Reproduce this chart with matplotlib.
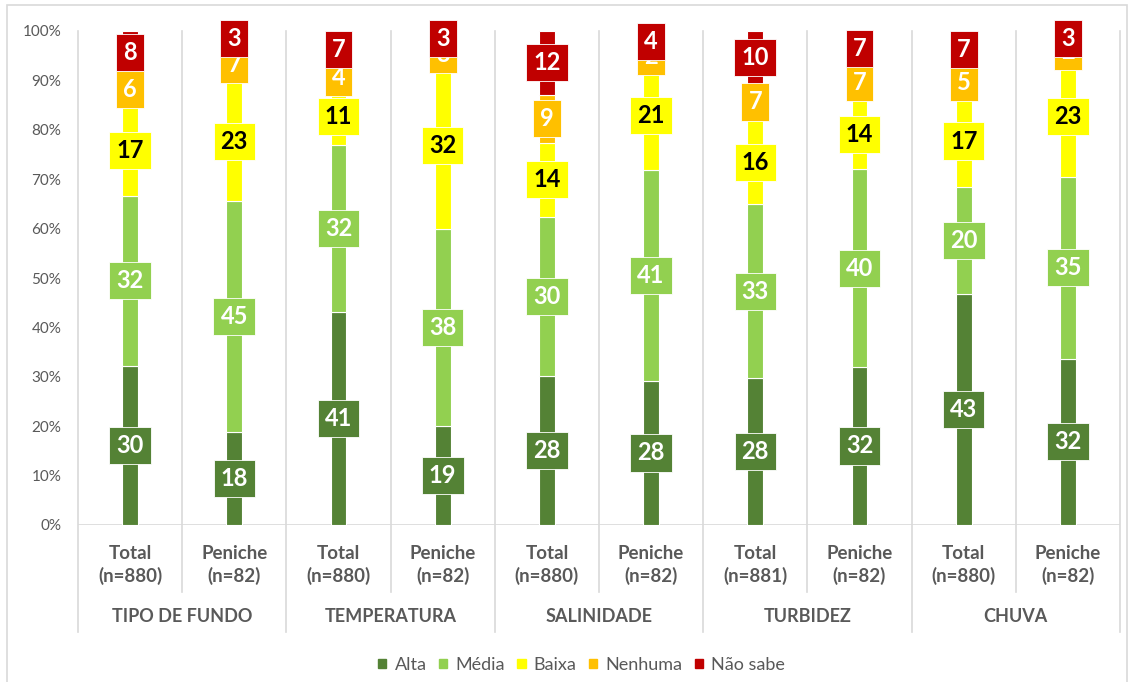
import matplotlib
matplotlib.use("Agg")
import matplotlib.pyplot as plt
import matplotlib.transforms as mtransforms
from matplotlib.patches import Rectangle
import numpy as np

plt.rcParams['font.family'] = ['Lato', 'DejaVu Sans']

groups = ["TIPO DE FUNDO", "TEMPERATURA", "SALINIDADE", "TURBIDEZ", "CHUVA"]
subcats = ["Total\n(n=880)", "Peniche\n(n=82)",
           "Total\n(n=880)", "Peniche\n(n=82)",
           "Total\n(n=880)", "Peniche\n(n=82)",
           "Total\n(n=881)", "Peniche\n(n=82)",
           "Total\n(n=880)", "Peniche\n(n=82)"]

alta = [30, 18, 41, 19, 28, 28, 28, 32, 43, 32]
media = [32, 45, 32, 38, 30, 41, 33, 40, 20, 35]
baixa = [17, 23, 11, 32, 14, 21, 16, 14, 17, 23]
nenhuma = [6, 7, 4, 3, 9, 2, 7, 7, 5, 2]
nao_sabe = [8, 3, 7, 3, 12, 4, 10, 7, 7, 3]

series_names = ["Alta", "Média", "Baixa", "Nenhuma", "Não sabe"]
series_vals = [alta, media, baixa, nenhuma, nao_sabe]
colors = ["#548235", "#92D050", "#FFFF00", "#FFC000", "#C00000"]
text_colors = ["white", "white", "black", "white", "white"]
GRAY = "#595959"
GRID = "#D9D9D9"

fig = plt.figure(figsize=(11.34, 6.82), dpi=100)
ax = fig.add_axes([78 / 1134, 1 - 525 / 682, 1042 / 1134, 494 / 682])

x = np.arange(len(subcats))
data = np.array(series_vals, dtype=float)
totals = data.sum(axis=0)
pct = data / totals * 100

bottom = np.zeros(len(subcats))
for i, (name, c) in enumerate(zip(series_names, colors)):
    ax.bar(x, pct[i], bottom=bottom, width=0.15, color=c, edgecolor="white",
           linewidth=0.8, label=name, zorder=2)
    for j in range(len(x)):
        ax.text(x[j], bottom[j] + pct[i][j] / 2, str(int(data[i][j])),
                ha="center", va="center", fontsize=17, fontweight="bold",
                color=text_colors[i], zorder=3 + i,
                bbox=dict(boxstyle="square,pad=0.3", fc=c, ec="white", lw=0.6))
    bottom += pct[i]

ax.set_xlim(-0.5, len(subcats) - 0.5)
ax.set_ylim(0, 100)
ax.set_yticks(np.arange(0, 101, 10))
ax.set_yticklabels([f"{v}%" for v in range(0, 101, 10)], fontsize=11, color=GRAY)
ax.tick_params(axis="y", length=0, pad=12)
ax.set_xticks([])
for s in ax.spines.values():
    s.set_visible(False)
ax.axhline(0, color=GRID, lw=1.2, zorder=1)

# category separators extending into the two-level label area
trans = mtransforms.blended_transform_factory(ax.transData, ax.transAxes)
for k in range(len(subcats) + 1):
    y_end = -0.2166 if k % 2 == 0 else -0.1356
    ax.plot([k - 0.5, k - 0.5], [1.0, y_end], color=GRID, lw=1.2,
            transform=trans, clip_on=False, zorder=1)

for j, lab in enumerate(subcats):
    ax.text(x[j], -0.081, lab, ha="center", va="center", fontsize=13.5,
            fontweight="bold", color=GRAY, transform=trans, linespacing=1.3)
for g, name in enumerate(groups):
    ax.text(2 * g + 0.5, -0.186, name, ha="center", va="center", fontsize=13,
            fontweight="bold", color=GRAY, transform=trans)

handles = [Rectangle((0, 0), 1, 1, color=c) for c in colors]
fig.legend(handles, series_names, loc="center", bbox_to_anchor=(0.513, 1 - 665 / 682),
           ncol=5, frameon=False, fontsize=13, handlelength=0.45, handleheight=0.45,
           handletextpad=0.45, columnspacing=0.7, labelcolor=GRAY)

# outer chart frame
fig.add_artist(Rectangle((7 / 1134, -0.01), 1120 / 1134, 1 - 5 / 682 + 0.01,
                         transform=fig.transFigure, fill=False, ec=GRID, lw=1.2))

fig.savefig("out.png", dpi=100)
